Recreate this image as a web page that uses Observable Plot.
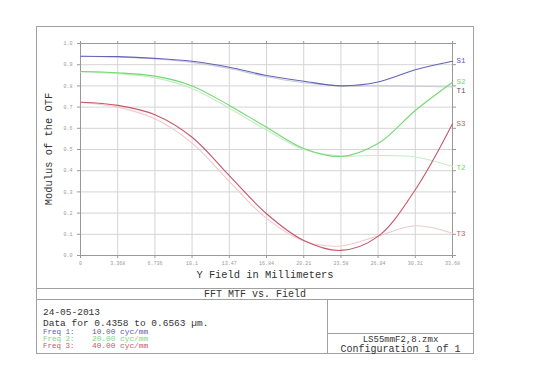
<!DOCTYPE html>
<html><head><meta charset="utf-8">
<script src="https://cdn.jsdelivr.net/npm/d3@7"></script>
<script src="https://cdn.jsdelivr.net/npm/@observablehq/plot@0.6"></script>
<style>
html,body{margin:0;padding:0;background:#fff;}
#chart{position:absolute;left:0;top:0;width:540px;height:381px;}
</style></head>
<body><div id="chart"></div>
<script>
const fieldMm = [0, 3.368, 6.736, 10.1, 13.47, 16.84, 20.21, 23.58, 26.94, 30.31, 33.68];
const xTickLabels = ["0", "3.368", "6.736", "10.1", "13.47", "16.84", "20.21", "23.58", "26.94", "30.31", "33.68"];
const yTicks = [0, 0.1, 0.2, 0.3, 0.4, 0.5, 0.6, 0.7, 0.8, 0.9, 1.0];
const s1 = [0.940, 0.938, 0.930, 0.916, 0.888, 0.849, 0.822, 0.800, 0.818, 0.876, 0.916];
const t1 = [0.940, 0.936, 0.927, 0.911, 0.882, 0.843, 0.815, 0.800, 0.800, 0.798, 0.795];
const s2 = [0.868, 0.862, 0.846, 0.800, 0.708, 0.605, 0.505, 0.467, 0.528, 0.684, 0.817];
const t2 = [0.866, 0.858, 0.838, 0.788, 0.695, 0.592, 0.500, 0.470, 0.472, 0.465, 0.420];
const s3 = [0.723, 0.708, 0.664, 0.558, 0.377, 0.197, 0.071, 0.024, 0.090, 0.310, 0.621];
const t3 = [0.722, 0.700, 0.645, 0.530, 0.350, 0.175, 0.068, 0.045, 0.092, 0.140, 0.105];
const seriesNames = ["T1", "T2", "T3", "S1", "S2", "S3"];
const seriesValues = [t1, t2, t3, s1, s2, s3];
const seriesColors = ["#c9c9d9", "#c6ecc6", "#efc9cf", "#6464b4", "#72d872", "#c8566a"];
const labelNames = ["S1", "S2", "T1", "S3", "T2", "T3"];
const labelY = [0.92, 0.82, 0.78, 0.62, 0.415, 0.104];
const labelColors = ["#5a5ab0", "#6ad86a", "#555555", "#c8566a", "#6ad86a", "#c8566a"];
const freqLabels = ["Freq 1:", "Freq 2:", "Freq 3:"];
const freqValues = ["10.00 cyc/mm", "20.00 cyc/mm", "40.00 cyc/mm"];
const freqColors = ["#5a5ab0", "#7ad87a", "#c8566a"];

const rows = [];
seriesNames.forEach((n, i) => fieldMm.forEach((x, j) => rows.push({series: n, x, y: seriesValues[i][j]})));
const labels = labelNames.map((n, i) => ({n, y: labelY[i], c: labelColors[i]}));

const font = "'Liberation Mono', 'DejaVu Sans Mono', monospace";
const plot = Plot.plot({
  width: 540, height: 381,
  marginLeft: 80, marginRight: 88, marginTop: 43, marginBottom: 126,
  style: {fontFamily: font, background: "#fff"},
  x: {domain: [0, 33.68]},
  y: {domain: [0, 1]},
  color: {domain: seriesNames, range: seriesColors},
  marks: [
    Plot.gridX(fieldMm, {stroke: "#d4d4d4", strokeOpacity: 1}),
    Plot.gridY(yTicks, {stroke: "#d4d4d4", strokeOpacity: 1}),
    Plot.axisX(fieldMm, {anchor: "bottom", tickSize: 3, tickPadding: 3, fontSize: 5, fill: "#999", stroke: "#999", label: null,
      tickFormat: (d, i) => xTickLabels[i]}),
    Plot.axisX(fieldMm, {anchor: "top", tickSize: 3, stroke: "#999", tickFormat: () => "", label: null}),
    Plot.axisY(yTicks, {anchor: "left", tickSize: 3, tickPadding: 5, fontSize: 5, fill: "#999", stroke: "#999", label: null,
      tickFormat: d => d.toFixed(1)}),
    Plot.axisY(yTicks, {anchor: "right", tickSize: 3, stroke: "#999", tickFormat: () => "", label: null}),
    Plot.frame({stroke: "#999"}),
    Plot.line(rows, {x: "x", y: "y", z: "series", stroke: "series", strokeWidth: 1.1, curve: "catmull-rom"}),
    Plot.text(labels, {x: 33.68, y: "y", text: "n", fill: "c", dx: 4, textAnchor: "start", fontSize: 7.5, fontFamily: font})
  ]
});
document.getElementById("chart").appendChild(plot);

const svg = d3.select(plot);
const g = svg.append("g").attr("font-family", font).attr("text-anchor", "start");
const stroke = "#a0a0a0";
g.append("rect").attr("x", 36.5).attr("y", 26.5).attr("width", 437).attr("height", 327).attr("fill", "none").attr("stroke", stroke);
g.append("line").attr("x1", 36.5).attr("x2", 473.5).attr("y1", 288.5).attr("y2", 288.5).attr("stroke", stroke);
g.append("line").attr("x1", 36.5).attr("x2", 473.5).attr("y1", 299.5).attr("y2", 299.5).attr("stroke", stroke);
g.append("line").attr("x1", 327.5).attr("x2", 327.5).attr("y1", 299.5).attr("y2", 353.5).attr("stroke", stroke);
g.append("line").attr("x1", 327.5).attr("x2", 473.5).attr("y1", 333.5).attr("y2", 333.5).attr("stroke", stroke);

g.append("text").attr("x", 265).attr("y", 278).attr("text-anchor", "middle").attr("font-size", 10.4).attr("fill", "#333").text("Y Field in Millimeters");
g.append("text").attr("transform", "translate(52,149) rotate(-90)").attr("text-anchor", "middle").attr("font-size", 10.4).attr("fill", "#333").text("Modulus of the OTF");
g.append("text").attr("x", 255).attr("y", 297).attr("text-anchor", "middle").attr("font-size", 10).attr("fill", "#333").text("FFT MTF vs. Field");
g.append("text").attr("x", 43).attr("y", 315).attr("text-anchor", "start").attr("font-size", 9.5).attr("fill", "#333").text("24-05-2013");
g.append("text").attr("x", 43).attr("y", 325.5).attr("text-anchor", "start").attr("font-size", 9.5).attr("fill", "#333").text("Data for 0.4358 to 0.6563 µm.");
freqLabels.forEach((f, i) => {
  g.append("text").attr("x", 43).attr("y", 334 + i * 7.2).attr("text-anchor", "start").attr("font-size", 7.5).attr("fill", freqColors[i]).text(f);
  g.append("text").attr("x", 92).attr("y", 334 + i * 7.2).attr("text-anchor", "start").attr("font-size", 7.8).attr("fill", freqColors[i]).text(freqValues[i]);
});
g.append("text").attr("x", 400.5).attr("y", 341.5).attr("text-anchor", "middle").attr("font-size", 9).attr("fill", "#333").text("LS55mmF2,8.zmx");
g.append("text").attr("x", 400.5).attr("y", 351.5).attr("text-anchor", "middle").attr("font-size", 10).attr("fill", "#333").text("Configuration 1 of 1");
</script>
</body></html>
